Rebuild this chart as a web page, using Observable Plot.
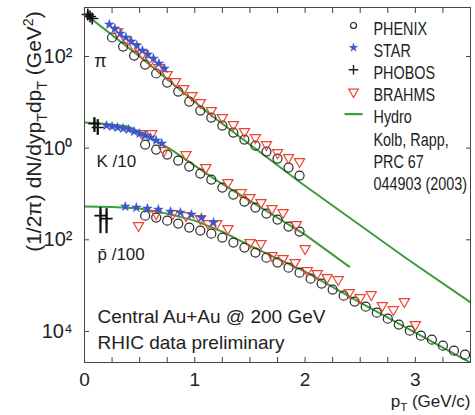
<!DOCTYPE html>
<html><head><meta charset="utf-8">
<script src="https://cdn.jsdelivr.net/npm/d3@7"></script>
<script src="https://cdn.jsdelivr.net/npm/@observablehq/plot@0.6"></script>
<style>
html,body{margin:0;padding:0;background:#fff;}
</style></head><body>
<script>
// ---------- data ----------
// pi
const piPhenixPt = [0.25,0.35,0.45,0.55,0.65,0.75,0.85,0.95,1.05,1.15,1.25,1.35,1.45,1.55,1.65,1.75,1.85,1.95];
const piPhenixV  = [260,165,105,66.8,42.6,27.0,17.2,10.4,6.62,4.66,3.11,2.19,1.54,1.14,0.843,0.593,0.377,0.252];
const piStarPt = [0.225,0.275,0.325,0.375,0.425,0.475,0.525,0.575,0.625,0.675,0.725];
const piStarV  = [500,408,318,260,213,174,135,111,90.4,70.3,54.7];
const piBrahmsPt = [0.30,0.375,0.45,0.525,0.60,0.675,0.75,0.825,0.90,0.975,1.05,1.15,1.25,1.35,1.45,1.55,1.65,1.75,1.85,1.95];
const piBrahmsV  = [351,235,165,116,81.8,57.5,40.5,28.4,20.0,14.1,9.91,6.62,4.66,3.28,2.30,1.70,1.20,0.801,0.624,0.509];
const piPhobosPt = [0.03,0.05,0.07];
const piPhobosV  = [826,747,676];
const piPhobosLo = [720,650,590];
const piPhobosHi = [950,860,780];
const piHydroPt = [0,0.5,1.15,1.97,2.92,3.5];
const piHydroV  = [869,100,5.15,0.169,0.0039,0.00043];
// K/10
const kPhenixPt = [0.55,0.65,0.75,0.85,0.95,1.05,1.15,1.25,1.35,1.45,1.55,1.65,1.75,1.85,1.95];
const kPhenixV  = [1.198,0.931,0.724,0.536,0.396,0.279,0.206,0.138,0.0970,0.0682,0.0505,0.0373,0.0276,0.0194,0.0151];
const kStarPt = [0.2,0.25,0.3,0.35,0.4,0.45,0.5,0.55,0.6,0.65,0.7];
const kStarV  = [3.11,2.96,2.82,2.68,2.55,2.30,2.08,1.88,1.70,1.47,1.26];
const kBrahmsPt = [0.52,0.61,0.72,0.92,1.1,1.3,1.42,1.5,1.6,1.7,1.8,1.92,2.0];
const kBrahmsV  = [2.08,2.08,0.887,0.724,0.377,0.177,0.107,0.0834,0.0649,0.048,0.0393,0.0215,0.00643];
const kPhobosPt = [0.09,0.12];
const kPhobosV  = [3.44,2.82];
const kPhobosLo = [2.2,1.9];
const kPhobosHi = [4.6,4.2];
const kHydroPt = [0,0.2,0.4,0.6,0.8,1.0,1.2,1.6,2.0,2.4];
const kHydroV  = [3.62,3.36,2.96,1.70,0.887,0.417,0.196,0.0505,0.013,0.0026];
// pbar/100
const pPhenixPt = [0.55,0.65,0.75,0.85,0.95,1.05,1.15,1.25,1.35,1.45,1.55,1.65,1.75,1.85,1.95,2.05,2.15,2.25,2.35,2.45,2.55,2.65,2.75,2.85,2.95,3.05,3.15,3.25,3.35,3.45];
const pPhenixV  = [0.0337,0.0305,0.0262,0.0226,0.0185,0.0159,0.0136,0.0112,0.00869,0.00676,0.00526,0.00408,0.00318,0.00247,0.00192,0.00142,0.00111,0.000818,0.000605,0.000448,0.000348,0.000257,0.000190,0.000141,0.000104,0.0000809,0.0000662,0.0000490,0.0000381,0.0000311];
const pStarPt = [0.37,0.47,0.57,0.67,0.78,0.87,0.97,1.06,1.17];
const pStarV  = [0.0531,0.0505,0.048,0.0456,0.0413,0.0393,0.0355,0.0305,0.0238];
const pBrahmsPt = [0.49,0.65,0.80,0.92,1.05,1.12,1.20,1.30,1.50,1.60,1.70,1.80,1.91,2.02,2.11,2.20,2.30,2.40,2.50,2.60,2.70,2.80,2.90,3.00];
const pBrahmsV  = [0.0204,0.0373,0.0373,0.0337,0.029,0.0226,0.0226,0.0176,0.00869,0.00826,0.00452,0.00389,0.00318,0.00213,0.00183,0.0015,0.00135,0.000703,0.000547,0.000635,0.000366,0.000299,0.000448,0.000141];
const pPhobosPt = [0.145,0.2];
const pPhobosV  = [0.0337,0.029];
const pPhobosLo = [0.0136,0.0136];
const pPhobosHi = [0.0505,0.048];
const pHydroPt = [0,0.25,0.5,0.75,1.0,1.25,1.5,2.0,2.5,3.0,3.5];
const pHydroV  = [0.0531,0.052,0.048,0.0373,0.0262,0.0151,0.00746,0.00202,0.000426,0.0000942,0.0000208];

// axes / labels
const xMinorTicks = [0,0.25,0.5,0.75,1,1.25,1.5,1.75,2,2.25,2.5,2.75,3,3.25,3.5];
const xLabelTicks = [0,1,2,3];
const xTickLabels = ["0","1","2","3"];
const yTicks = [100,1,0.01,0.0001];
const yTickLabels = ["10²","10⁰","10²","10⁴"];
const yLabel = "(1/2π) dN/dyp_{T}dp_{T} (GeV^{2})";
const xLabel = "p_{T} (GeV/c)";
const speciesLabels = ["π","K /10","p̄ /100"];
const infoText = ["Central Au+Au @ 200 GeV","RHIC data preliminary"];
const legendNames = ["PHENIX","STAR","PHOBOS","BRAHMS","Hydro","Kolb, Rapp,","PRC 67","044903 (2003)"];

// ---------- build rows ----------
const rows = (pt, v, lo, hi) => pt.map((p, i) => ({pt: p, v: v[i], lo: lo ? lo[i] : null, hi: hi ? hi[i] : null}));
const phenix = [...rows(piPhenixPt, piPhenixV), ...rows(kPhenixPt, kPhenixV), ...rows(pPhenixPt, pPhenixV)];
const star   = [...rows(piStarPt, piStarV), ...rows(kStarPt, kStarV), ...rows(pStarPt, pStarV)];
const brahms = [...rows(piBrahmsPt, piBrahmsV), ...rows(kBrahmsPt, kBrahmsV), ...rows(pBrahmsPt, pBrahmsV)];
const phobos = [...rows(piPhobosPt, piPhobosV, piPhobosLo, piPhobosHi), ...rows(kPhobosPt, kPhobosV, kPhobosLo, kPhobosHi), ...rows(pPhobosPt, pPhobosV, pPhobosLo, pPhobosHi)];
const hydro = [
  ...rows(piHydroPt, piHydroV).map(d => ({...d, s: "pi"})),
  ...rows(kHydroPt, kHydroV).map(d => ({...d, s: "k"})),
  ...rows(pHydroPt, pHydroV).map(d => ({...d, s: "p"}))
];

const GREEN = "#3a9e3a", RED = "#ee4433", BLUE = "#3b56c9", INK = "#222";
const yTickMap = new Map(yTicks.map((t, i) => [t, yTickLabels[i]]));
const xTickMap = new Map(xLabelTicks.map((t, i) => [t, xTickLabels[i]]));
const blank = () => "";

const lineSymbol = {draw(ctx) { ctx.moveTo(-9, 0); ctx.lineTo(9, 0); }};

// legend markers, offsets from the frame's top-left corner
const LX = 269, LY = 18, LH = 22.15;
const legendMarkers = [
  Plot.dot([0], {x: null, y: null, frameAnchor: "top-left", dx: LX, dy: LY, r: 3, stroke: INK, strokeWidth: 1.2, fill: "none"}),
  Plot.dot([0], {x: null, y: null, frameAnchor: "top-left", dx: LX, dy: LY + LH, symbol: "star", r: 2.6, fill: BLUE, stroke: BLUE, strokeWidth: 0.5}),
  Plot.dot([0], {x: null, y: null, frameAnchor: "top-left", dx: LX, dy: LY + 2 * LH, symbol: "plus", r: 3.2, stroke: INK, strokeWidth: 1.4}),
  Plot.dot([0], {x: null, y: null, frameAnchor: "top-left", dx: LX, dy: LY + 3 * LH, symbol: "triangle", rotate: 180, r: 3.6, stroke: RED, strokeWidth: 1.2, fill: "none"}),
  Plot.dot([0], {x: null, y: null, frameAnchor: "top-left", dx: LX, dy: LY + 4 * LH, symbol: lineSymbol, stroke: GREEN, strokeWidth: 2.2, fill: "none"})
];

const plot = Plot.plot({
  width: 475, height: 415,
  marginLeft: 84, marginRight: 5, marginTop: 7, marginBottom: 53,
  x: {domain: [0, 3.5]},
  y: {type: "log", domain: [2.1e-5, 1175]},
  style: {fontFamily: "'Liberation Sans',Arial,Helvetica,sans-serif", color: INK, background: "#fff"},
  marks: [
    // hydro curves
    Plot.line(hydro, {x: "pt", y: "v", z: "s", stroke: GREEN, strokeWidth: 2, clip: true}),
    // PHOBOS error bars
    Plot.ruleX(phobos, {x: "pt", y1: "lo", y2: "hi", stroke: "#111", strokeWidth: 2.2}),
    // PHENIX
    Plot.dot(phenix, {x: "pt", y: "v", r: 4.5, stroke: "#2a2a2a", strokeWidth: 1.2, fill: "none"}),
    // BRAHMS
    Plot.dot(brahms, {x: "pt", y: "v", symbol: "triangle", rotate: 180, r: 3.8, stroke: RED, strokeWidth: 1.2, fill: "none"}),
    // STAR
    Plot.dot(star, {x: "pt", y: "v", symbol: "star", r: 3, fill: BLUE, stroke: BLUE, strokeWidth: 0.5}),
    // PHOBOS
    Plot.dot(phobos, {x: "pt", y: "v", symbol: "plus", r: 4, stroke: "#111", strokeWidth: 1.6}),
    // frame and axes (ticks point inward)
    Plot.frame({stroke: "#444"}),
    Plot.axisX({anchor: "bottom", ticks: xMinorTicks, tickSize: -5, tickFormat: blank, label: null, stroke: "#444"}),
    Plot.axisX({anchor: "top", ticks: xMinorTicks, tickSize: -5, tickFormat: blank, label: null, stroke: "#444"}),
    Plot.axisX({anchor: "bottom", ticks: xLabelTicks, tickSize: 0, tickPadding: 10, fontSize: 19, tickFormat: d => xTickMap.get(d), label: null}),
    Plot.axisY({anchor: "left", ticks: yTicks, tickSize: -5, tickFormat: blank, label: null, stroke: "#444"}),
    Plot.axisY({anchor: "right", ticks: yTicks, tickSize: -5, tickFormat: blank, label: null, stroke: "#444"}),
    Plot.axisY({anchor: "left", ticks: yTicks, tickSize: 0, tickPadding: 12, fontSize: 20, tickFormat: d => yTickMap.get(d), label: null}),
    // axis titles
    Plot.text([yLabel], {frameAnchor: "top-left", dx: -58, dy: 124, rotate: -90, fontSize: 21, textAnchor: "middle"}),
    Plot.text([xLabel], {frameAnchor: "bottom-right", dx: 0, dy: 44, fontSize: 17, textAnchor: "end"}),
    // species labels
    Plot.text([speciesLabels[0]], {frameAnchor: "top-left", dx: 16, dy: 47, fontSize: 18, textAnchor: "middle"}),
    Plot.text([speciesLabels[1]], {frameAnchor: "top-left", dx: 12, dy: 147, fontSize: 17, textAnchor: "start"}),
    Plot.text([speciesLabels[2]], {frameAnchor: "top-left", dx: 13, dy: 240, fontSize: 17, textAnchor: "start"}),
    // info text
    Plot.text([infoText.join("\n")], {frameAnchor: "top-left", dx: 13, dy: 297, fontSize: 19, lineAnchor: "top", lineHeight: 1.37, textAnchor: "start"}),
    // legend
    ...legendMarkers,
    Plot.text([legendNames.join("\n")], {frameAnchor: "top-left", dx: 289, dy: 11.6, fontSize: 18, lineAnchor: "top", lineHeight: 1.23, textAnchor: "start"})
  ]
});

// sub/superscripts written as _{..} and ^{..}
function richify(el) {
  if (el.children.length) return;
  const s = el.textContent;
  if (!/[_^]\{/.test(s)) return;
  const fs = parseFloat(getComputedStyle(el).fontSize) || 16;
  const ns = "http://www.w3.org/2000/svg";
  el.textContent = "";
  let shift = 0, last = 0, m;
  const add = (txt, small, dy) => {
    const t = document.createElementNS(ns, "tspan");
    if (small) t.setAttribute("font-size", (fs * 0.68).toFixed(2));
    if (dy) t.setAttribute("dy", dy.toFixed(2));
    t.textContent = txt;
    el.appendChild(t);
  };
  const re = /([_^])\{([^}]*)\}/g;
  while ((m = re.exec(s))) {
    if (m.index > last) { add(s.slice(last, m.index), false, -shift); shift = 0; }
    const target = m[1] === "_" ? 0.25 * fs : -0.42 * fs;
    add(m[2], true, target - shift);
    shift = target;
    last = re.lastIndex;
  }
  if (last < s.length) add(s.slice(last), false, -shift);
}
document.body.appendChild(plot);
plot.querySelectorAll("text").forEach(richify);
// the legend in the reference uses a condensed face: narrow it horizontally
plot.querySelectorAll("text").forEach(el => {
  if (el.textContent.startsWith("PHENIX")) {
    const t = el.getAttribute("transform") || "";
    el.setAttribute("transform", (t + " scale(0.8,1)").trim());
  }
});
</script>
</body></html>
